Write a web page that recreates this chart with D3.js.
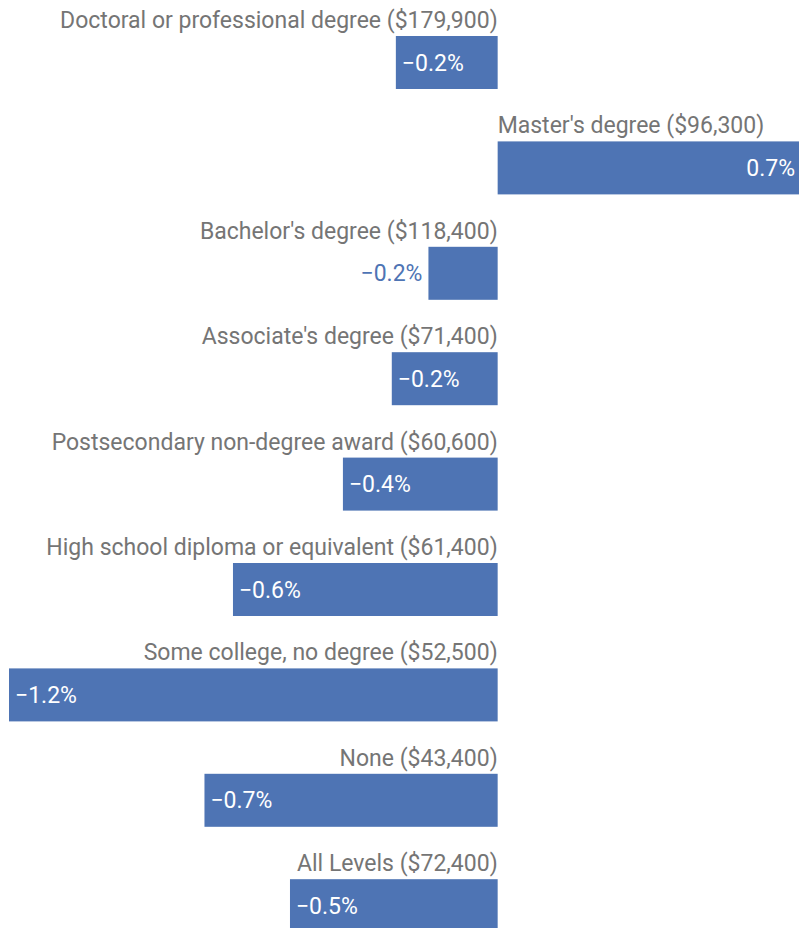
<!DOCTYPE html>
<html>
<head>
<meta charset="utf-8">
<script src="https://cdn.jsdelivr.net/npm/d3@7"></script>
<style>
  html, body { margin: 0; padding: 0; background: #fff; overflow: hidden; }
  .lbl { font-family: Roboto, sans-serif; font-size: 23px; fill: #757575; }
  .val { font-family: Roboto, sans-serif; font-size: 23px; }
</style>
</head>
<body>
<svg class="chart-svg"></svg>
<script>
const categories = [
    "Doctoral or professional degree ($179,900)",
    "Master's degree ($96,300)",
    "Bachelor's degree ($118,400)",
    "Associate's degree ($71,400)",
    "Postsecondary non-degree award ($60,600)",
    "High school diploma or equivalent ($61,400)",
    "Some college, no degree ($52,500)",
    "None ($43,400)",
    "All Levels ($72,400)"
]

// percent change
const values = [-0.25, 0.74, -0.17, -0.26, -0.38, -0.65, -1.2, -0.72, -0.51]

// printed labels as shown on the chart
const valueLabels = ["−0.2%", "0.7%", "−0.2%", "−0.2%", "−0.4%", "−0.6%", "−1.2%", "−0.7%", "−0.5%"]

const draw = () => {

    const width = 799
    const height = 928
    const barH = 53
    const rowStep = 105.4
    const top = 36

    const svg = d3.select('.chart-svg')
        .attr('width', width)
        .attr('height', height)

    const x = d3.scaleLinear()
        .domain(d3.extent(values))
        .range([9, width])

    const y = d3.scaleBand()
        .domain(categories)
        .range([top, top + rowStep * categories.length])
        .paddingInner(0)

    const rows = categories.map((c, i) => ({ c, v : values[i], t : valueLabels[i] }))

    const g = svg.selectAll('blah')
        .data(rows)
        .enter()
        .append('g')

    g.append('rect')
        .attr('x', d => Math.min(x(0), x(d.v)))
        .attr('y', d => y(d.c))
        .attr('width', d => Math.abs(x(d.v) - x(0)))
        .attr('height', barH)
        .attr('fill', '#4e74b4')

    g.append('text')
        .attr('class', 'lbl')
        .attr('x', x(0))
        .attr('y', d => y(d.c) - 8)
        .attr('text-anchor', d => d.v < 0 ? 'end' : 'start')
        .text(d => d.c)

    g.append('text')
        .attr('class', 'val')
        .each(function(d) {
            const el = d3.select(this)
            const w = Math.abs(x(d.v) - x(0))
            const inside = w > 80
            let tx, anchor
            if (d.v < 0) {
                tx = inside ? x(d.v) + 6 : x(d.v) - 6
                anchor = inside ? 'start' : 'end'
            } else {
                tx = inside ? x(d.v) - 4 : x(d.v) + 6
                anchor = inside ? 'end' : 'start'
            }
            el.attr('x', tx)
                .attr('y', y(d.c) + barH / 2 + 8)
                .attr('text-anchor', anchor)
                .attr('fill', inside ? '#fff' : '#4e74b4')
                .text(d.t)
        })
}

draw()
</script>
</body>
</html>
